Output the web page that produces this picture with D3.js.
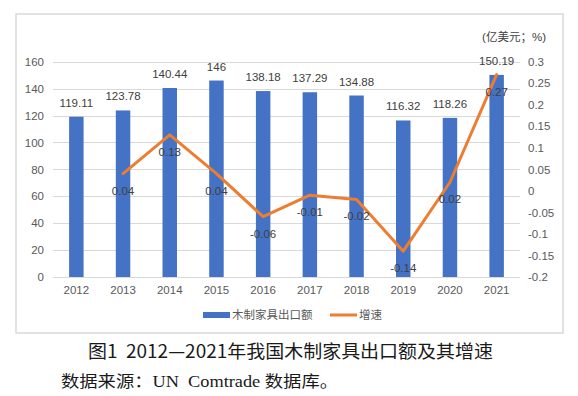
<!DOCTYPE html>
<html>
<head>
<meta charset="utf-8">
<script src="https://cdn.jsdelivr.net/npm/d3@7"></script>
<style>
    body { margin: 0; background: #fff; }
    svg { display: block; }
    text { font-family: "Liberation Sans", "Noto Sans CJK SC", sans-serif; }
</style>
</head>
<body>
<div id="chart"></div>
<script>
const years = ["2012", "2013", "2014", "2015", "2016", "2017", "2018", "2019", "2020", "2021"]
const exportValues = [119.11, 123.78, 140.44, 146, 138.18, 137.29, 134.88, 116.32, 118.26, 150.19]
const growthYears = ["2013", "2014", "2015", "2016", "2017", "2018", "2019", "2020", "2021"]
const growthValues = [0.04, 0.13, 0.04, -0.06, -0.01, -0.02, -0.14, 0.02, 0.27]
const leftTicks = [0, 20, 40, 60, 80, 100, 120, 140, 160]
const rightTicks = [-0.2, -0.15, -0.1, -0.05, 0, 0.05, 0.1, 0.15, 0.2, 0.25, 0.3]

const W = 578, H = 396
const plot = {left: 53, right: 520, top: 61.7, bottom: 277}

const svg = d3.select("#chart")
    .append("svg")
    .attr("width", W)
    .attr("height", H)

// chart frame
svg.append("rect")
    .attr("x", 16).attr("y", 14)
    .attr("width", 547).attr("height", 319)
    .attr("fill", "none")
    .attr("stroke", "#d9d9d9")
    .attr("stroke-width", 1.5)

const x = d3.scaleBand()
    .domain(years)
    .range([plot.left, plot.right])
    .paddingInner(0.69)
    .paddingOuter(0.345)

const y = d3.scaleLinear().domain([0, 160]).range([plot.bottom, plot.top])
const y2 = d3.scaleLinear().domain([-0.2, 0.3]).range([plot.bottom, plot.top])

// gridlines
svg.append("g")
    .selectAll("line")
    .data(leftTicks)
    .join("line")
    .attr("x1", plot.left).attr("x2", plot.right)
    .attr("y1", d => Math.round(y(d)) + 0.5)
    .attr("y2", d => Math.round(y(d)) + 0.5)
    .attr("stroke", "#d9d9d9")

// left axis
const yAxis = svg.append("g")
    .attr("transform", `translate(${plot.left - 9},0)`)
    .call(d3.axisLeft(y).tickValues(leftTicks).tickSize(0).tickPadding(0))
yAxis.select(".domain").remove()
yAxis.selectAll("text")
    .attr("fill", "#595959")
    .style("font-size", "11.5px")

// right axis
const y2Axis = svg.append("g")
    .attr("transform", `translate(${plot.right + 8},0)`)
    .call(d3.axisRight(y2).tickValues(rightTicks).tickSize(0).tickPadding(0)
        .tickFormat(d => String(+d.toFixed(2))))
y2Axis.select(".domain").remove()
y2Axis.selectAll("text")
    .attr("fill", "#595959")
    .style("font-size", "11.5px")

// x axis
const xAxis = svg.append("g")
    .attr("transform", `translate(0,${plot.bottom})`)
    .call(d3.axisBottom(x).tickSize(0).tickPadding(9))
xAxis.select(".domain").remove()
xAxis.selectAll("text")
    .attr("fill", "#595959")
    .style("font-size", "11.5px")

// bars
svg.append("g")
    .selectAll("rect")
    .data(exportValues)
    .join("rect")
    .attr("x", (d, i) => x(years[i]))
    .attr("y", d => y(d))
    .attr("width", x.bandwidth())
    .attr("height", d => y(0) - y(d))
    .attr("fill", "#4472c4")

svg.append("g")
    .selectAll("text")
    .data(exportValues)
    .join("text")
    .attr("x", (d, i) => x(years[i]) + x.bandwidth() / 2)
    .attr("y", d => y(d) - 10)
    .attr("text-anchor", "middle")
    .attr("fill", "#404040")
    .style("font-size", "11.5px")
    .text(d => d)

// growth line
const cx = yr => x(yr) + x.bandwidth() / 2
svg.append("path")
    .datum(growthValues)
    .attr("d", d3.line()
        .x((d, i) => cx(growthYears[i]))
        .y(d => y2(d)))
    .attr("fill", "none")
    .attr("stroke", "#ed7d31")
    .attr("stroke-width", 3)
    .attr("stroke-linejoin", "round")
    .attr("stroke-linecap", "round")

svg.append("g")
    .selectAll("text")
    .data(growthValues)
    .join("text")
    .attr("x", (d, i) => cx(growthYears[i]))
    .attr("y", d => y2(d) + 21)
    .attr("text-anchor", "middle")
    .attr("fill", "#404040")
    .style("font-size", "11.5px")
    .text(d => d.toFixed(2))

// unit label
svg.append("text")
    .attr("x", 546).attr("y", 41)
    .attr("text-anchor", "end")
    .attr("fill", "#404040")
    .style("font-size", "11.5px")
    .text("(亿美元；%)")

// legend
const legend = svg.append("g").attr("transform", "translate(0,315)")
legend.append("rect")
    .attr("x", 203).attr("y", -3)
    .attr("width", 27).attr("height", 6)
    .attr("fill", "#4472c4")
legend.append("text")
    .attr("x", 232).attr("y", 4)
    .attr("fill", "#595959")
    .style("font-size", "11.5px")
    .text("木制家具出口额")
legend.append("line")
    .attr("x1", 330).attr("x2", 357)
    .attr("y1", 0).attr("y2", 0)
    .attr("stroke", "#ed7d31")
    .attr("stroke-width", 3)
legend.append("text")
    .attr("x", 359).attr("y", 4)
    .attr("fill", "#595959")
    .style("font-size", "11.5px")
    .text("增速")

// caption and source
svg.append("text")
    .attr("x", 88).attr("y", 358)
    .attr("textLength", 405)
    .attr("lengthAdjust", "spacingAndGlyphs")
    .attr("fill", "#1a1a1a")
    .style("white-space", "pre")
    .style("font-family", "'Noto Sans CJK SC', sans-serif")
    .style("font-size", "18px")
    .text("图1  2012—2021年我国木制家具出口额及其增速")

svg.append("text")
    .attr("x", 61).attr("y", 387)
    .attr("textLength", 277)
    .attr("lengthAdjust", "spacingAndGlyphs")
    .attr("fill", "#1a1a1a")
    .style("white-space", "pre")
    .style("font-family", "'Liberation Serif', 'Noto Sans CJK SC', serif")
    .style("font-size", "16px")
    .text("数据来源：UN  Comtrade 数据库。")
</script>
</body>
</html>
